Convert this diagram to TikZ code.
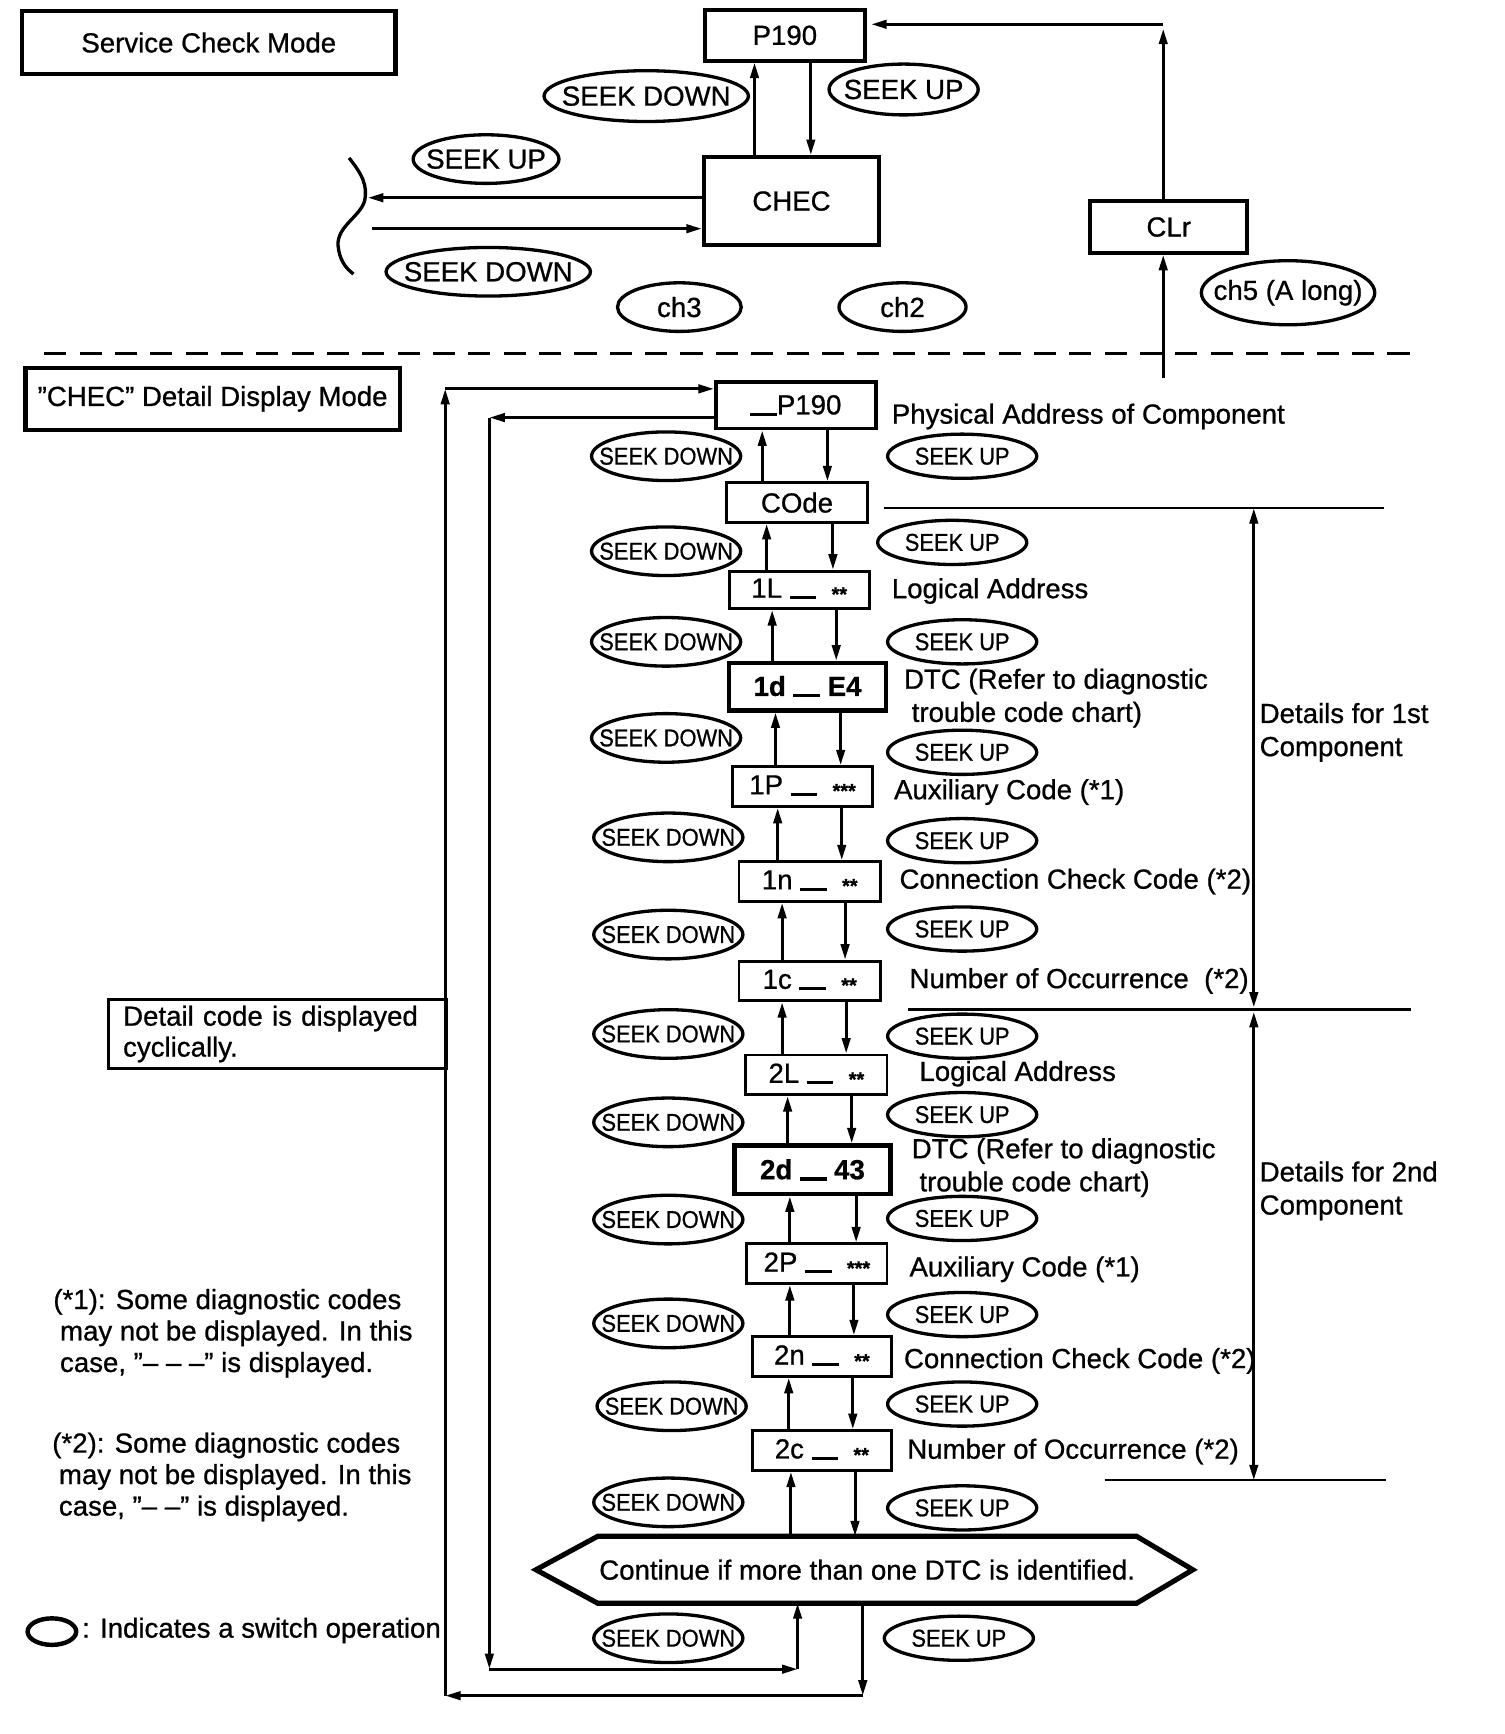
\documentclass[tikz,border=0pt]{standalone}
\usepackage{fontspec}
\setmainfont{Liberation Sans}[FakeBold=0.8]
\usetikzlibrary{arrows.meta,shapes.geometric,calc}
\newcommand\ulbar{\rule[-0.6pt]{12pt}{1.4pt}}
\newcommand\stars[1]{\raisebox{-1.5pt}{\fontsize{9}{9}\selectfont\bfseries #1}}
\newcommand\zw[1]{\makebox[0pt]{#1}}
\newcommand\cz[1]{\makebox[0pt]{\scalebox{0.9}[1]{#1}}}
\newcommand\pairarrows[4]{%
  \draw[->] (#2.north -| #3,0) -- (#1.south -| #3,0);
  \draw[->] (#1.south -| #4,0) -- (#2.north -| #4,0);}
\begin{document}
\begin{tikzpicture}[x=0.5pt,y=-0.5pt,
  >={Triangle[length=7pt,width=3.8pt]},
  line width=1.35pt,
  font=\fontsize{12.5}{15}\selectfont,
  thickbox/.style={draw, line width=2pt, inner sep=0pt},
  midbox/.style={draw, line width=1.7pt, inner sep=0pt},
  thinbox/.style={draw, line width=1.3pt, inner sep=0pt, minimum height=18pt},
  sw/.style={ellipse, draw, line width=1.5pt, inner sep=0pt},
  csd/.style={sw, minimum width=67.5pt, minimum height=22pt, font=\fontsize{11}{11}\selectfont},
  csu/.style={sw, minimum width=67.5pt, minimum height=20pt, font=\fontsize{11}{11}\selectfont},
  lbl/.style={anchor=west, inner sep=0pt},
  rule/.style={line width=1.1pt}]
\useasboundingbox (0,0) rectangle (1361.5,1569.7);

% ---------- top part ----------
\node[thickbox, minimum width=169pt, minimum height=28.5pt] (svc) at (189,38.5) {Service Check Mode};
\node[midbox, minimum width=72.5pt, minimum height=23pt] (p190) at (710.5,32) {P190};
\node[midbox, minimum width=79.5pt, minimum height=40pt] (chec) at (716.5,182) {CHEC};
\node[midbox, minimum width=71pt, minimum height=23.5pt] (clr) at (1058,205.5) {CLr};

\node[sw, minimum width=92.5pt, minimum height=23pt] (sdA) at (585,87) {\zw{SEEK DOWN}};
\node[sw, minimum width=67.5pt, minimum height=23pt] (suA) at (818,81) {\zw{SEEK UP}};
\node[sw, minimum width=66pt, minimum height=22pt] (suB) at (440,144) {\zw{SEEK UP}};
\node[sw, minimum width=92.5pt, minimum height=22pt] (sdB) at (442,246) {\zw{SEEK DOWN}};
\node[sw, minimum width=56pt, minimum height=22pt] (ch3) at (615,278) {\zw{ch3}};
\node[sw, minimum width=57.5pt, minimum height=22pt] (ch2) at (817,278) {\zw{ch2}};
\node[sw, minimum width=78.5pt, minimum height=29pt] (ch5) at (1166,265) {\zw{ch5 (A long)}};

\draw[->] (chec.north -| 683,0) -- (p190.south -| 683,0);
\draw[->] (p190.south -| 734,0) -- (chec.north -| 734,0);

\coordinate (brR) at (333,179);
\coordinate (brL) at (337,207);
\draw[->] (chec.west |- brR) -- (brR);
\draw[->] (brL) -- (chec.west |- brL);
\draw[line width=1.5pt] (316,143) .. controls (328,158) and (333,168) .. (330,182)
  .. controls (326,196) and (305,205) .. (306,222)
  .. controls (307,235) and (313,243) .. (320,248);

\coordinate (clrtop) at (1053,26);
\coordinate (clrcorner) at (1053,22);
\coordinate (clrin) at (1053,342);
\draw[->] (clr.north -| clrtop) -- (clrtop);
\draw[->] (clrcorner) -- ([xshift=2pt]p190.east |- clrcorner);
\draw[->] (clrin) -- (clr.south -| clrin);

\coordinate (dl) at (40,320);
\coordinate (dr) at (1285,320);
\draw[line width=1.1pt, dash pattern=on 10pt off 6pt] (dl) -- (dr);

% ---------- detail mode ----------
\node[thickbox, minimum width=169.5pt, minimum height=28pt] (cdm) at (192.5,361) {”CHEC” Detail Display Mode};

\node[midbox, minimum width=72.5pt, minimum height=21pt] (pp190) at (720.5,367) {\ulbar P190};
\node[thinbox, minimum width=63.5pt] (code) at (721.5,455) {COde};
\node[thinbox, minimum width=63.5pt, minimum height=17pt] (b1L) at (723.5,534) {1L\ \ulbar\ \ \stars{**}};
\node[thickbox, minimum width=71pt, minimum height=21.5pt, font=\fontsize{12.5}{15}\selectfont\bfseries] (b1d) at (731,621.5) {1d \ulbar\ E4};
\node[thinbox, minimum width=63.5pt] (b1P) at (726.5,712) {1P\ \ulbar\ \ \stars{***}};
\node[thinbox, minimum width=64pt] (b1n) at (733,798) {1n\ \ulbar\ \ \stars{**}};
\node[thinbox, minimum width=64pt] (b1c) at (733,888) {1c\ \ulbar\ \ \stars{**}};
\node[thinbox, minimum width=64pt] (b2L) at (739,973) {2L\ \ulbar\ \ \stars{**}};
\node[thickbox, minimum width=70.5pt, minimum height=22pt, font=\fontsize{12.5}{15}\selectfont\bfseries] (b2d) at (735.5,1059) {2d \ulbar\ 43};
\node[thinbox, minimum width=63.5pt] (b2P) at (739.5,1144) {2P\ \ulbar\ \ \stars{***}};
\node[thinbox, minimum width=63pt] (b2n) at (744,1228) {2n\ \ulbar\ \ \stars{**}};
\node[thinbox, minimum width=63pt] (b2c) at (744,1313) {2c\ \ulbar\ \ \stars{**}};

\node[inner sep=0pt, minimum width=242pt, minimum height=29pt] (hex) at (785,1421) {Continue if more than one DTC is identified.};
\draw[line width=2.3pt, line join=miter] (hex.north west) -- (hex.north east) -- ($(hex.east)+(51,0)$)
  -- (hex.south east) -- (hex.south west) -- ($(hex.west)+(-56,0)$) -- cycle;

\pairarrows{pp190}{code}{690}{749}
\pairarrows{code}{b1L}{694}{754}
\pairarrows{b1L}{b1d}{699}{757}
\pairarrows{b1d}{b1P}{702}{761}
\pairarrows{b1P}{b1n}{704}{762}
\pairarrows{b1n}{b1c}{708}{765}
\pairarrows{b1c}{b2L}{708}{766}
\pairarrows{b2L}{b2d}{713}{771}
\pairarrows{b2d}{b2P}{715}{775}
\pairarrows{b2P}{b2n}{715}{773}
\pairarrows{b2n}{b2c}{714}{772}
\pairarrows{b2c}{hex}{716}{774}

% switch ellipses of the chain
\node[csd] (sd1) at (603,413) {\cz{SEEK DOWN}};
\node[csd] (sd2) at (603,499) {\cz{SEEK DOWN}};
\node[csd] (sd3) at (603,581) {\cz{SEEK DOWN}};
\node[csd] (sd4) at (603,668) {\cz{SEEK DOWN}};
\node[csd] (sd5) at (605,758) {\cz{SEEK DOWN}};
\node[csd] (sd6) at (605,846) {\cz{SEEK DOWN}};
\node[csd] (sd7) at (605,936) {\cz{SEEK DOWN}};
\node[csd] (sd8) at (605,1016) {\cz{SEEK DOWN}};
\node[csd] (sd9) at (605,1104) {\cz{SEEK DOWN}};
\node[csd] (sd10) at (605,1198) {\cz{SEEK DOWN}};
\node[csd] (sd11) at (608,1273) {\cz{SEEK DOWN}};
\node[csd] (sd12) at (605,1360) {\cz{SEEK DOWN}};
\node[csd] (sd13) at (605,1483) {\cz{SEEK DOWN}};

\node[csu] (su1) at (871,413) {\cz{SEEK UP}};
\node[csu] (su2) at (862,491) {\cz{SEEK UP}};
\node[csu] (su3) at (871,581) {\cz{SEEK UP}};
\node[csu] (su4) at (871,681) {\cz{SEEK UP}};
\node[csu] (su5) at (871,761) {\cz{SEEK UP}};
\node[csu] (su6) at (871,841) {\cz{SEEK UP}};
\node[csu] (su7) at (871,938) {\cz{SEEK UP}};
\node[csu] (su8) at (871,1009) {\cz{SEEK UP}};
\node[csu] (su9) at (871,1103) {\cz{SEEK UP}};
\node[csu] (su10) at (871,1190) {\cz{SEEK UP}};
\node[csu] (su11) at (871,1271) {\cz{SEEK UP}};
\node[csu] (su12) at (871,1365) {\cz{SEEK UP}};
\node[csu] (su13) at (868,1483) {\cz{SEEK UP}};

% descriptions
\node[lbl] (d1) at (806,377) {Physical Address of Component};
\node[lbl] (d2) at (806,535) {Logical Address};
\node[lbl, align=left] (d3) at (817,632) {DTC (Refer to diagnostic\\\hspace*{3.5pt}trouble code chart)};
\node[lbl] (d4) at (808,717) {Auxiliary Code (*1)};
\node[lbl] (d5) at (813,798) {Connection Check Code (*2)};
\node[lbl] (d6) at (822,888) {Number of Occurrence\ \ (*2)};
\node[lbl] (d7) at (831,972) {Logical Address};
\node[lbl, align=left] (d8) at (824,1057) {DTC (Refer to diagnostic\\\hspace*{3.5pt}trouble code chart)};
\node[lbl] (d9) at (822,1149) {Auxiliary Code (*1)};
\node[lbl] (d10) at (817,1232) {Connection Check Code (*2)};
\node[lbl] (d11) at (820,1314) {Number of Occurrence (*2)};

% component brackets
\coordinate (h1a) at (800,460); \coordinate (h1b) at (1253,460);
\coordinate (h2a) at (822,914); \coordinate (h2b) at (1277,914);
\coordinate (h3a) at (1000,1340); \coordinate (h3b) at (1255,1340);
\coordinate (v1t) at (1135,460); \coordinate (v1b) at (1135,912);
\coordinate (v2t) at (1135,916); \coordinate (v2b) at (1135,1340);
\draw[rule] (h1a) -- (h1b);
\draw[rule] (h2a) -- (h2b);
\draw[rule] (h3a) -- (h3b);
\draw[<->] (v1t) -- (v1b);
\draw[<->] (v2t) -- (v2b);
\node[lbl, align=left] (c1) at (1139,663) {Details for 1st\\Component};
\node[lbl, align=left] (c2) at (1139,1078) {Details for 2nd\\Component};

% cyclic loops
\coordinate (oTL) at (403,352); \coordinate (oBL) at (403,1535); \coordinate (oBR) at (781,1535);
\coordinate (iTL) at (443,378); \coordinate (iBL) at (443,1511); \coordinate (iBR) at (722,1511);
\draw[->] (hex.south -| oBR) -- (oBR);
\draw[->] (oBR) -- (oBL);
\draw[->] (oBL) -- (oTL);
\draw[->] (oTL) -- (pp190.west |- oTL);
\draw[->] (pp190.west |- iTL) -- (iTL);
\draw[->] (iTL) -- (iBL);
\draw[->] (iBL) -- (iBR);
\draw[->] (iBR) -- (hex.south -| iBR);

\node[draw, line width=1.3pt, minimum width=153pt, minimum height=31pt, text width=140pt, align=left, inner sep=0pt,
  font=\fontsize{12.5}{14}\selectfont] (dcb) at (251.5,936) {Detail code is displayed\\cyclically.};

% footnotes
\node[lbl, align=left, font=\fontsize{12.5}{14.25}\selectfont] (fn1) at (47,1207)
  {(*1): Some diagnostic codes\\\hspace*{3pt}may not be displayed. In this\\\hspace*{3pt}case, ”– – –” is displayed.};
\node[lbl, align=left, font=\fontsize{12.5}{14.25}\selectfont] (fn2) at (46,1337)
  {(*2): Some diagnostic codes\\\hspace*{3pt}may not be displayed. In this\\\hspace*{3pt}case, ”– –” is displayed.};
\node[sw, line width=2pt, minimum width=22pt, minimum height=12pt] (leg) at (47,1477) {};
\node[lbl] (legt) at (73,1476) {: Indicates a switch operation};
\end{tikzpicture}
\end{document}
